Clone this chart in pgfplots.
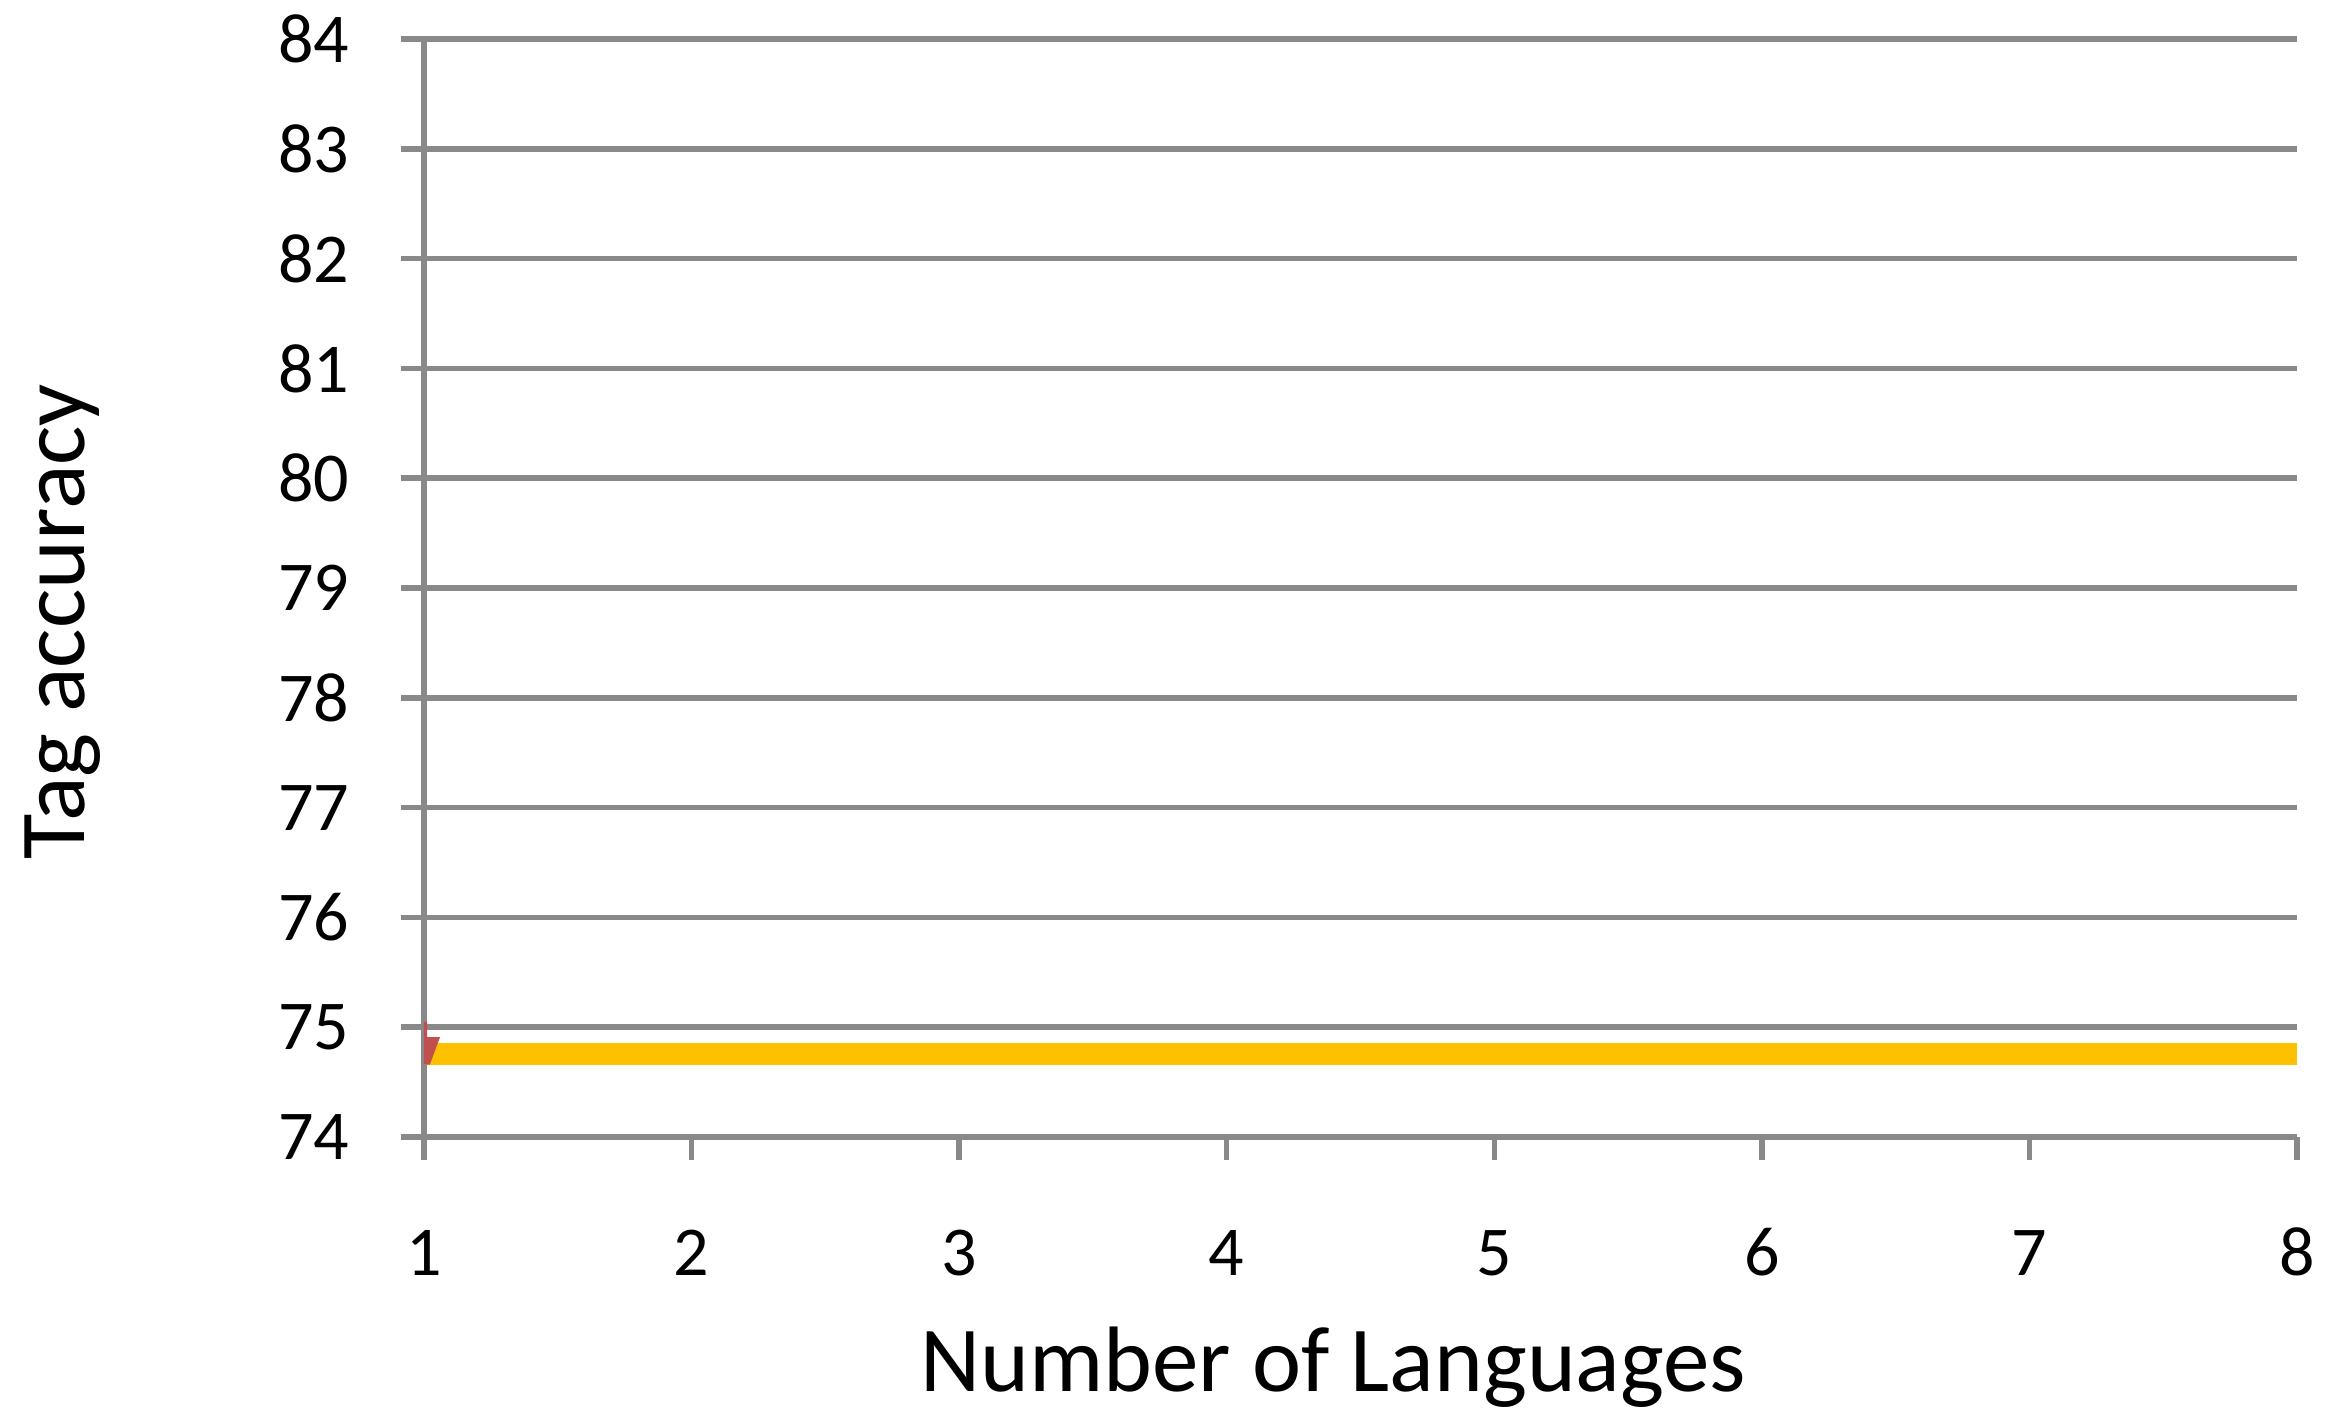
\documentclass[border=0pt]{standalone}
\usepackage{pgfplots}
\pgfplotsset{compat=1.18}
\usepackage{fontspec}
\setmainfont{Carlito}
\definecolor{gridgray}{HTML}{898989}
\definecolor{myyellow}{HTML}{FFC000}
\definecolor{myred}{HTML}{C0504D}
\begin{document}
\begin{tikzpicture}
\useasboundingbox (-84.8pt,-55.2pt) rectangle (381.4pt,227.4pt);
\begin{axis}[
  at={(0,0)}, anchor=origin,
  scale only axis, width=374.6pt, height=219.6pt,
  xmin=1, xmax=8, ymin=74, ymax=84,
  xtick={1,...,8}, ytick={74,...,84},
  axis x line=bottom, axis y line=left,
  axis line style={-, gridgray, line width=1.1pt},
  ymajorgrids, grid style={gridgray, line width=1.1pt},
  tick style={gridgray, line width=1.1pt},
  tick align=outside, major tick length=4.6pt,
  /pgf/number format/assume math mode=true,
  tick label style={font=\fontsize{14}{16}\selectfont, black},
  xticklabel style={anchor=base, yshift=-23.2pt},
  yticklabel style={anchor=east, xshift=-6.8pt},
  xlabel={Number of Languages},
  ylabel={Tag accuracy},
  label style={font=\fontsize{18.6}{22}\selectfont},
  xlabel style={at={(axis description cs:0.4855,0)}, anchor=base, yshift=-50.9pt},
  ylabel style={at={(axis description cs:-0.1927,0.469)}, anchor=center},
  clip=false,
]
\addplot[myyellow, line width=4.4pt] coordinates {(1,74.76) (8,74.76)};
\addplot[fill=myred, draw=none] coordinates {(1.0,75.05) (1.0,74.66) (1.022,74.66) (1.06,74.91) (1.012,74.91) (1.012,75.05)} -- cycle;
\end{axis}
\end{tikzpicture}
\end{document}
